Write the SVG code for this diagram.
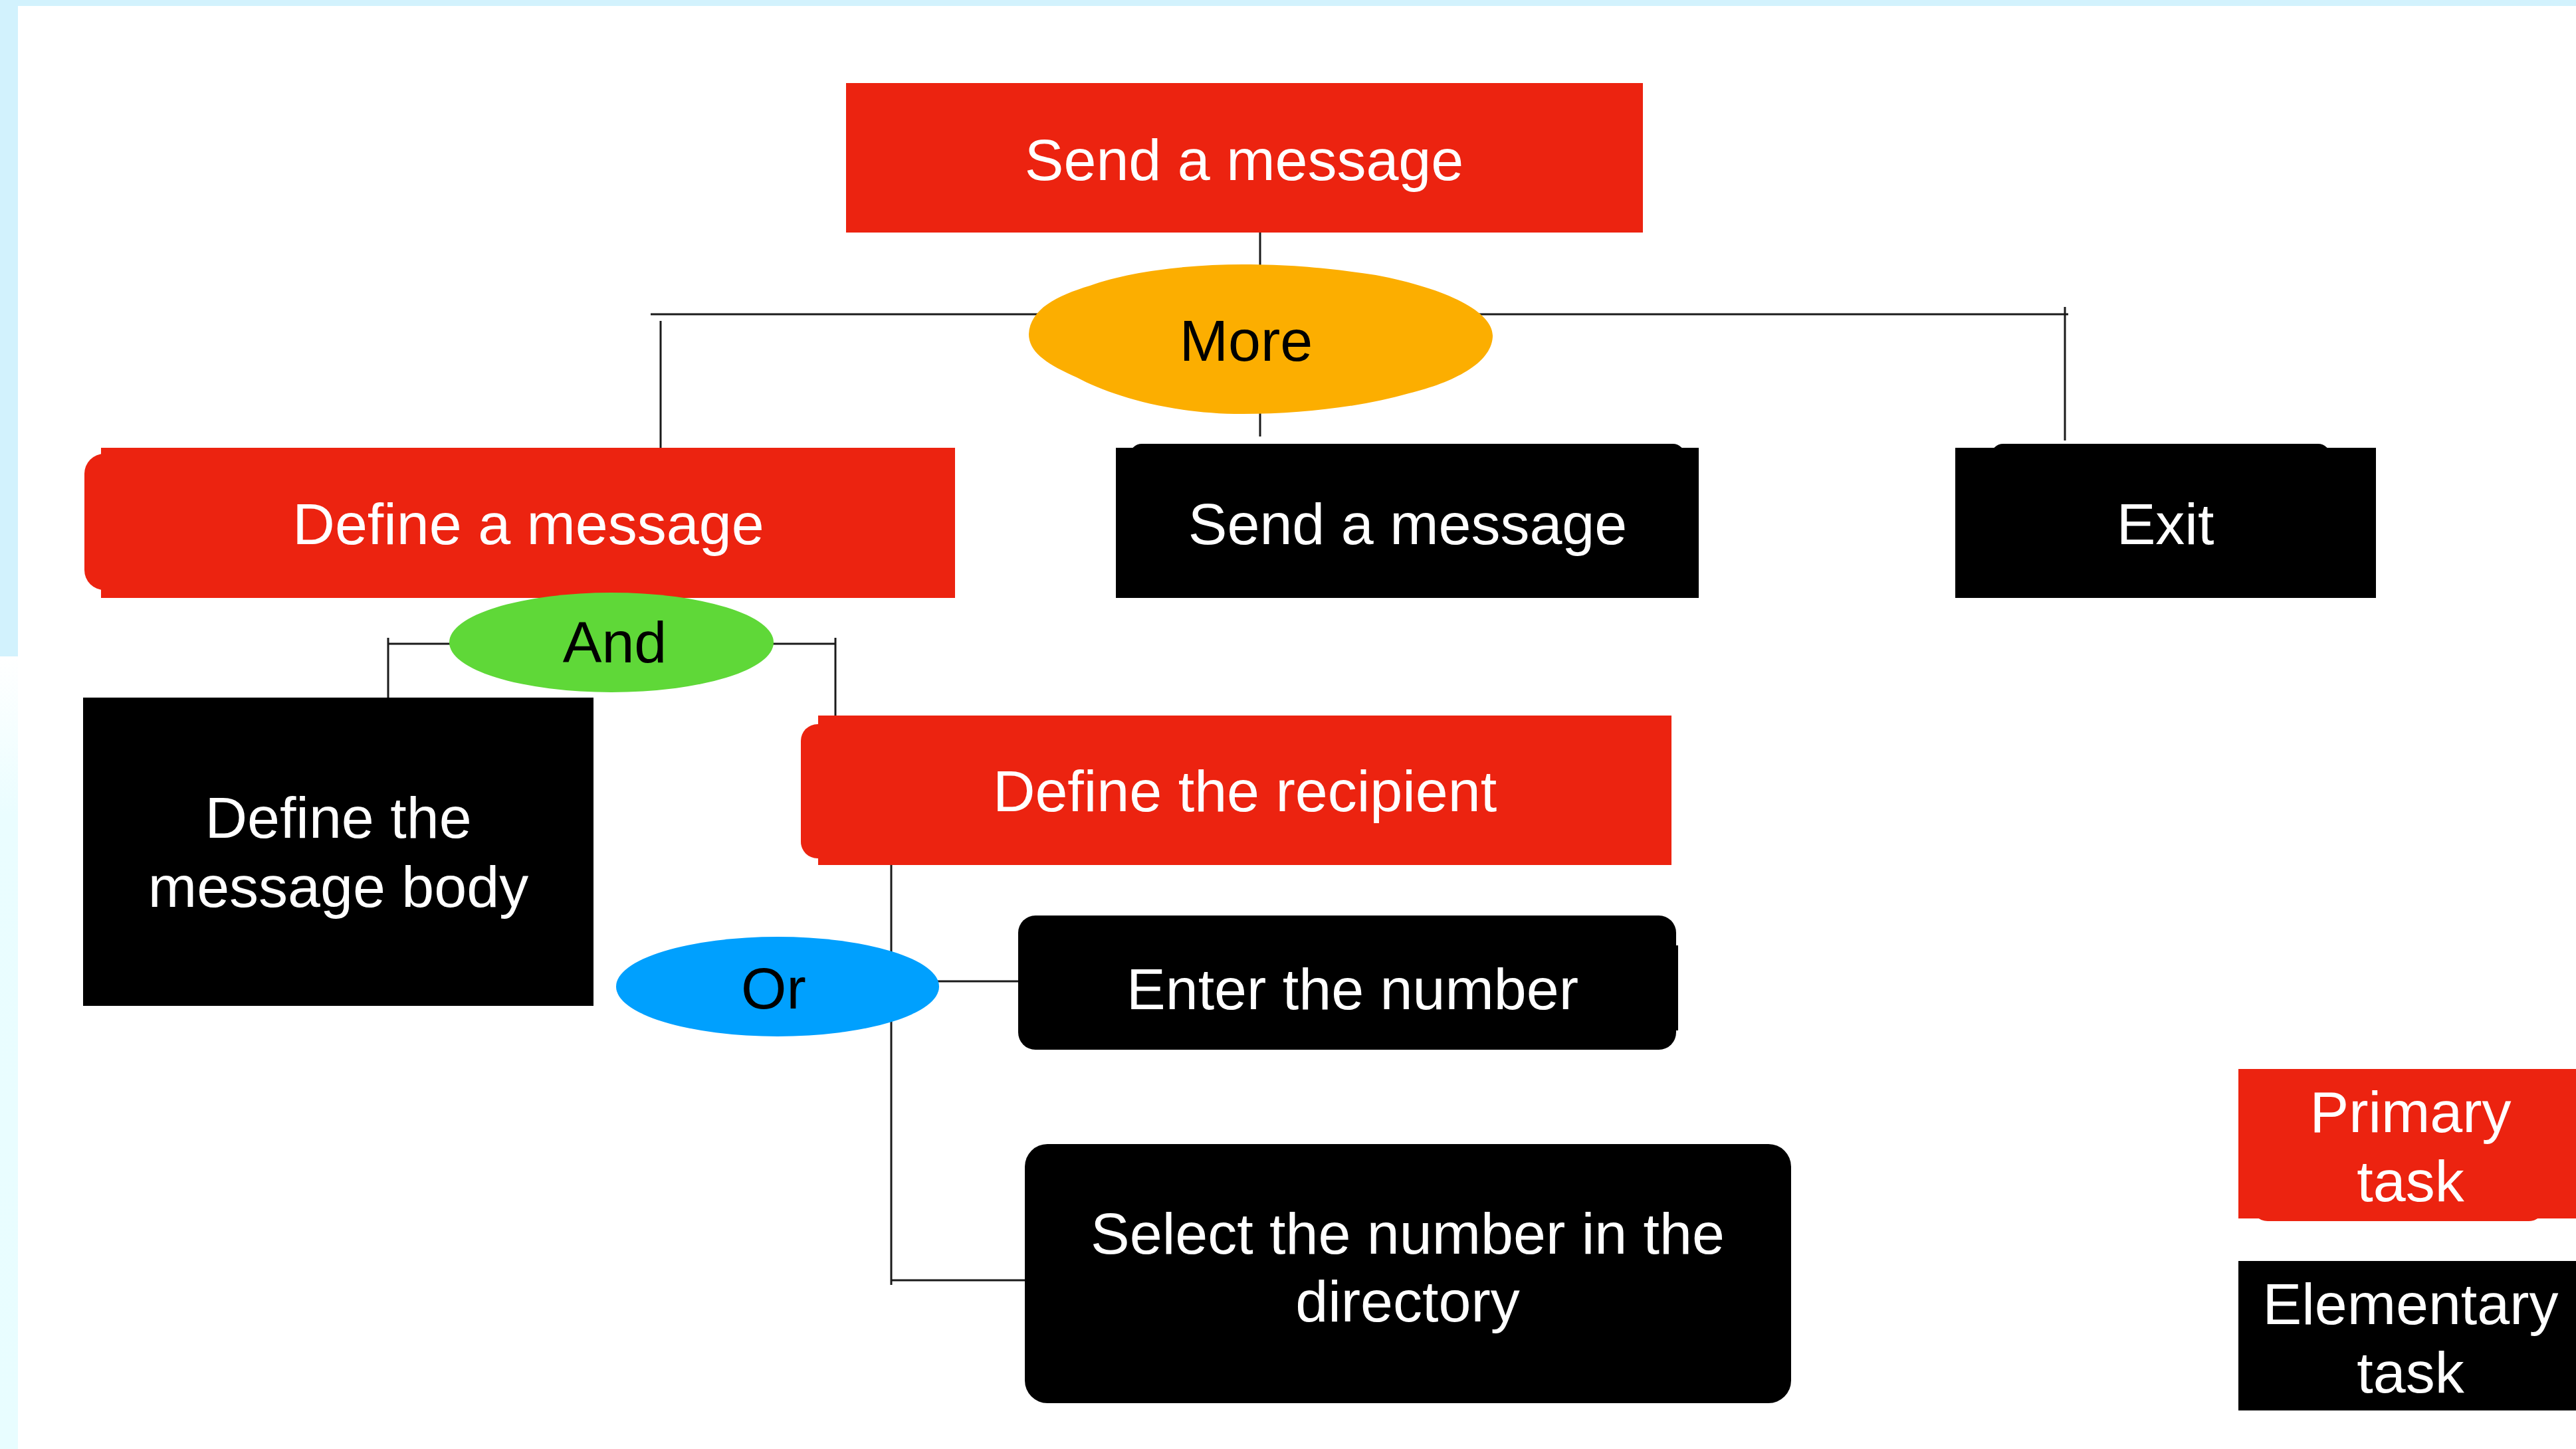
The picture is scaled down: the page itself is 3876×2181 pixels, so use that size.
<svg xmlns="http://www.w3.org/2000/svg" width="3876" height="2181" viewBox="0 0 3876 2181">
<defs>
<style>
.t{font-family:"Liberation Sans",Arial,Helvetica,sans-serif;font-size:88px;text-anchor:middle}
.w{fill:#ffffff}
.b{fill:#000000}
.red{fill:#ec2310}
.blk{fill:#000000}
.ln{stroke:#1a1a1a;stroke-width:3;fill:none}
</style>
<linearGradient id="lowband" x1="0" y1="0" x2="0" y2="1">
<stop offset="0" stop-color="#ffffff"/>
<stop offset="0.2" stop-color="#eafdff"/>
<stop offset="1" stop-color="#e8fdff"/>
</linearGradient>
</defs>
<rect x="0" y="0" width="3876" height="2181" fill="#ffffff"/>
<rect x="0" y="0" width="3876" height="9" fill="#d2f2fd"/>
<rect x="0" y="0" width="27" height="988" fill="#d2f2fd"/>
<rect x="0" y="988" width="27" height="1193" fill="url(#lowband)"/>

<g id="connectors">
<line class="ln" x1="1896" y1="350" x2="1896" y2="420"/>
<line class="ln" x1="1896" y1="610" x2="1896" y2="657"/>
<line class="ln" x1="979" y1="473" x2="3112" y2="473"/>
<line class="ln" x1="994" y1="483" x2="994" y2="674"/>
<line class="ln" x1="3107" y1="462" x2="3107" y2="663"/>
<line class="ln" x1="584" y1="969" x2="1257" y2="969"/>
<line class="ln" x1="584" y1="960" x2="584" y2="1050"/>
<line class="ln" x1="1257" y1="960" x2="1257" y2="1077"/>
<line class="ln" x1="1341" y1="1302" x2="1341" y2="1934"/>
<line class="ln" x1="1341" y1="1927" x2="1542" y2="1927"/>
<line class="ln" x1="1400" y1="1477" x2="1532" y2="1477"/>
</g>

<g id="node-send-top">
<rect class="red" x="1273" y="125" width="1199" height="225"/>
<text class="t w" x="1872" y="271">Send a message</text>
</g>

<g id="node-more">
<path fill="#fcae00" d="M1548,503 C1550,465 1590,445 1640,430 C1700,408 1790,398 1870,398 C1950,398 2010,405 2070,414 C2180,435 2246,470 2246,505 C2246,545 2190,575 2120,592 C2050,612 1960,623 1870,623 C1760,623 1670,595 1620,568 C1575,548 1548,530 1548,503 Z"/>
<text class="t b" x="1875" y="543">More</text>
</g>

<g id="node-define-message">
<rect class="red" x="127" y="683" width="1100" height="205" rx="30"/>
<rect class="red" x="152" y="674" width="1285" height="226"/>
<text class="t w" x="795" y="819">Define a message</text>
</g>

<g id="node-send-message">
<rect class="blk" x="1700" y="668" width="835" height="60" rx="18"/>
<rect class="blk" x="1679" y="674" width="877" height="226"/>
<text class="t w" x="2118" y="819">Send a message</text>
</g>

<g id="node-exit">
<rect class="blk" x="2996" y="668" width="510" height="60" rx="18"/>
<rect class="blk" x="2942" y="674" width="633" height="226"/>
<text class="t w" x="3258" y="819">Exit</text>
</g>

<g id="node-and">
<ellipse cx="920" cy="967" rx="244" ry="75" fill="#5fd838"/>
<text class="t b" x="925" y="997">And</text>
</g>

<g id="node-message-body">
<rect class="blk" x="125" y="1050" width="768" height="464"/>
<text class="t w" x="509" y="1261">Define the</text>
<text class="t w" x="509" y="1365">message body</text>
</g>

<g id="node-define-recipient">
<rect class="red" x="1205" y="1090" width="900" height="202" rx="25"/>
<rect class="red" x="1231" y="1077" width="1284" height="225"/>
<text class="t w" x="1873" y="1221">Define the recipient</text>
</g>

<g id="node-or">
<ellipse cx="1170" cy="1485" rx="243" ry="75" fill="#00a0fe"/>
<text class="t b" x="1164" y="1518">Or</text>
</g>

<g id="node-enter-number">
<rect class="blk" x="1532" y="1378" width="990" height="202" rx="26"/>
<rect class="blk" x="2500" y="1423" width="25" height="128"/>
<text class="t w" x="2035" y="1519">Enter the number</text>
</g>

<g id="node-select-number">
<rect class="blk" x="1542" y="1722" width="1153" height="390" rx="34"/>
<text class="t w" x="2118" y="1887">Select the number in the</text>
<text class="t w" x="2118" y="1989">directory</text>
</g>

<g id="legend-primary">
<rect class="red" x="3388" y="1780" width="441" height="58" rx="24"/>
<rect class="red" x="3368" y="1609" width="508" height="225"/>
<text class="t w" x="3627" y="1704">Primary</text>
<text class="t w" x="3627" y="1808">task</text>
</g>

<g id="legend-elementary">
<rect class="blk" x="3368" y="1898" width="508" height="225"/>
<text class="t w" x="3627" y="1993">Elementary</text>
<text class="t w" x="3627" y="2096">task</text>
</g>
</svg>
